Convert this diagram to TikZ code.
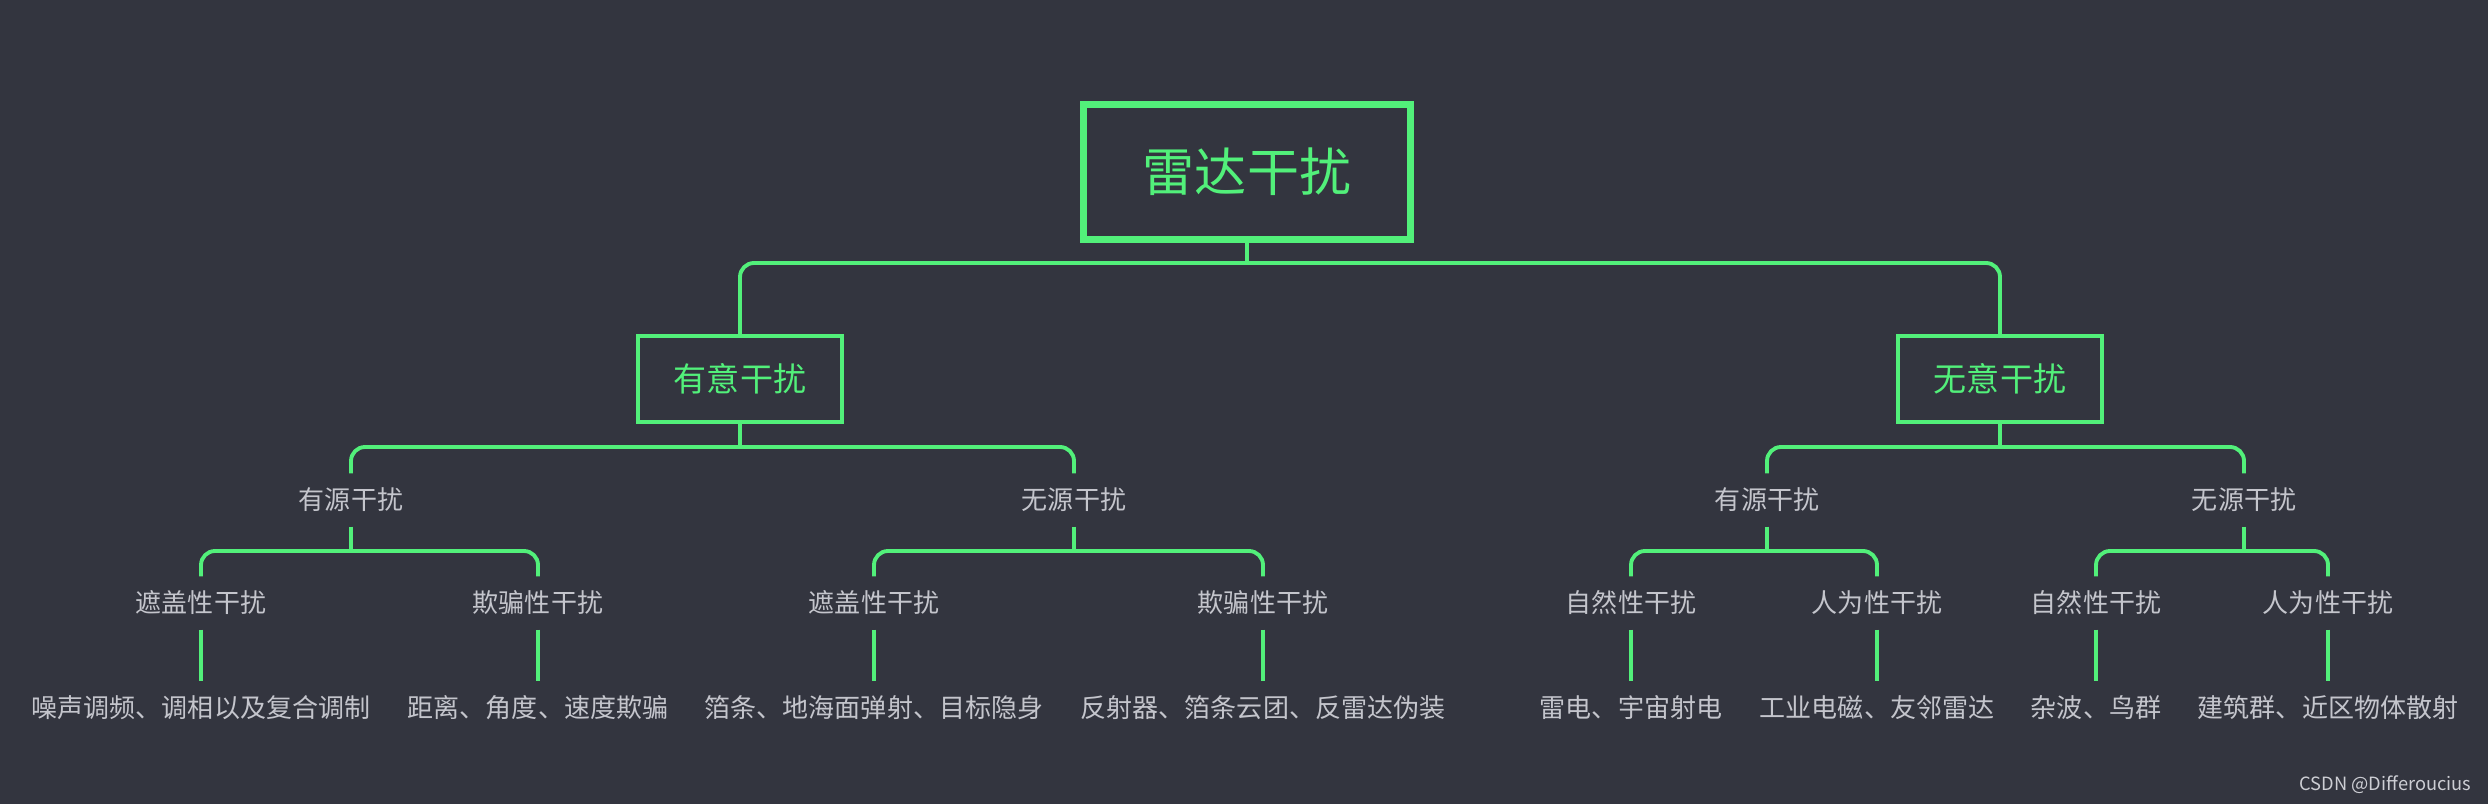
\documentclass[tikz,border=0pt]{standalone}
\usepackage{fontspec}
\setmainfont{Noto Sans CJK SC}
\usetikzlibrary{positioning}
\definecolor{bgdark}{HTML}{33353F}
\definecolor{mapgreen}{HTML}{52F07A}
\definecolor{labelgrey}{HTML}{C4C5CC}

\begin{document}
\begin{tikzpicture}[
  x=0.01cm,
  y=-0.01cm,
  every node/.style={inner sep=0pt},
  rootbox/.style={draw=mapgreen, line width=2pt, minimum width=3.27cm, minimum height=1.35cm, text=mapgreen, font=\fontsize{14.8}{16}\selectfont},
  sidebox/.style={draw=mapgreen, line width=1.1pt, minimum width=2.04cm, minimum height=0.86cm, text=mapgreen, font=\fontsize{9.4}{11}\selectfont},
  branch/.style={text=labelgrey, minimum height=0.52cm, font=\fontsize{7.4}{9}\selectfont},
  leaf/.style={branch},
  credit/.style={text=labelgrey!85, font=\fontsize{5.2}{6}\selectfont},
  link/.style={draw=mapgreen, line width=1.1pt, rounded corners=1.4mm}
]
\fill[bgdark] (0,0) rectangle (2488,804);

\node[rootbox] (root) at (1247,172) {雷达干扰};
\node[sidebox] (wantA) at (740,379) {有意干扰};
\node[sidebox] (wantB) at (2000,379) {无意干扰};

\node[branch] (actA) at (351,500) {有源干扰};
\node[branch] (pasA) at (1074,500) {无源干扰};
\node[branch] (actB) at (1767,500) {有源干扰};
\node[branch] (pasB) at (2244,500) {无源干扰};

\node[branch] (coverA) at (201,603) {遮盖性干扰};
\node[branch] (deceA) at (538,603) {欺骗性干扰};
\node[branch] (coverP) at (874,603) {遮盖性干扰};
\node[branch] (deceP) at (1263,603) {欺骗性干扰};
\node[branch] (natA) at (1631,603) {自然性干扰};
\node[branch] (manA) at (1877,603) {人为性干扰};
\node[branch] (natP) at (2096,603) {自然性干扰};
\node[branch] (manP) at (2328,603) {人为性干扰};

\node[leaf] (coverAx) at (201,708) {噪声调频、调相以及复合调制};
\node[leaf] (deceAx) at (538,708) {距离、角度、速度欺骗};
\node[leaf] (coverPx) at (874,708) {箔条、地海面弹射、目标隐身};
\node[leaf] (decePx) at (1263,708) {反射器、箔条云团、反雷达伪装};
\node[leaf] (natAx) at (1631,708) {雷电、宇宙射电};
\node[leaf] (manAx) at (1877,708) {工业电磁、友邻雷达};
\node[leaf] (natPx) at (2096,708) {杂波、鸟群};
\node[leaf] (manPx) at (2328,708) {建筑群、近区物体散射};

\coordinate (jroot) at (1247,263);
\coordinate (jwantA) at (740,447);
\coordinate (jwantB) at (2000,447);
\coordinate (jactA) at (351,551);
\coordinate (jpasA) at (1074,551);
\coordinate (jactB) at (1767,551);
\coordinate (jpasB) at (2244,551);

\draw[link] (root.south) -- (jroot);
\draw[link] (wantA.north) |- (jroot) -| (wantB.north);
\draw[link] (wantA.south) -- (jwantA);
\draw[link] (actA.north) |- (jwantA) -| (pasA.north);
\draw[link] (wantB.south) -- (jwantB);
\draw[link] (actB.north) |- (jwantB) -| (pasB.north);

\draw[link] (actA.south) -- (jactA);
\draw[link] (coverA.north) |- (jactA) -| (deceA.north);
\draw[link] (pasA.south) -- (jpasA);
\draw[link] (coverP.north) |- (jpasA) -| (deceP.north);
\draw[link] (actB.south) -- (jactB);
\draw[link] (natA.north) |- (jactB) -| (manA.north);
\draw[link] (pasB.south) -- (jpasB);
\draw[link] (natP.north) |- (jpasB) -| (manP.north);

\draw[link] (coverA.south) -- (coverAx.north);
\draw[link] (deceA.south) -- (deceAx.north);
\draw[link] (coverP.south) -- (coverPx.north);
\draw[link] (deceP.south) -- (decePx.north);
\draw[link] (natA.south) -- (natAx.north);
\draw[link] (manA.south) -- (manAx.north);
\draw[link] (natP.south) -- (natPx.north);
\draw[link] (manP.south) -- (manPx.north);

\node[credit, anchor=east] (mark) at (2472,785) {CSDN @Differoucius};
\end{tikzpicture}
\end{document}
